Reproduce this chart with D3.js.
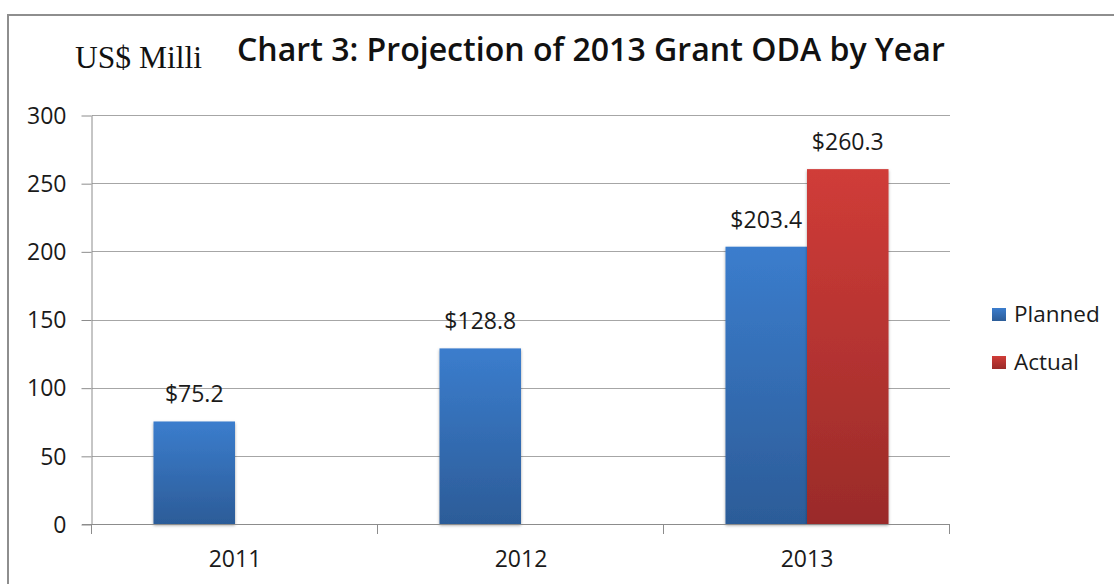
<!DOCTYPE html>
<html>
<head>
<meta charset="utf-8">
<script src="https://cdn.jsdelivr.net/npm/d3@7"></script>
<style>
  html, body { margin: 0; padding: 0; background: #fff; }
  svg { display: block; }
</style>
</head>
<body>
<svg id="chart" width="1114" height="584"></svg>
<script>
const categories = ["2011", "2012", "2013"];
const seriesNames = ["Planned", "Actual"];
const plannedValues = [75.2, 128.8, 203.4];
const actualValues = [null, null, 260.3];
const yTicks = [0, 50, 100, 150, 200, 250, 300];
const titleText = "Chart 3: Projection of 2013 Grant ODA by Year";
const unitText = "US$ Milli";

const svg = d3.select("#chart");
const W = 1114, H = 584;
const plot = { left: 92, right: 950, top: 115, bottom: 524 };
const font = "'Open Sans', 'Noto Sans', sans-serif";

const defs = svg.append("defs");
function grad(id, top, bottom) {
  const g = defs.append("linearGradient").attr("id", id)
    .attr("x1", 0).attr("y1", 0).attr("x2", 0).attr("y2", 1);
  g.append("stop").attr("offset", "0%").attr("stop-color", top);
  g.append("stop").attr("offset", "100%").attr("stop-color", bottom);
}
grad("gPlanned", "#3b7dcd", "#2c5c98");
grad("gActual", "#d03c38", "#9a2b29");
const f = defs.append("filter").attr("id", "shadow")
  .attr("x", "-10%").attr("y", "-10%").attr("width", "120%").attr("height", "120%");
f.append("feDropShadow").attr("dx", 0).attr("dy", 1.5).attr("stdDeviation", 1.5)
  .attr("flood-color", "#000").attr("flood-opacity", 0.35);

// frame
svg.append("rect").attr("x", 8).attr("y", 15).attr("width", W + 20).attr("height", H + 20)
  .attr("fill", "none").attr("stroke", "#8e8e8e").attr("stroke-width", 2);

const x0 = d3.scaleBand().domain(categories).range([plot.left, plot.right])
  .paddingInner(0.43).paddingOuter(0.215);
const x1 = d3.scaleBand().domain(seriesNames).range([0, x0.bandwidth()]);
const y = d3.scaleLinear().domain([0, 300]).range([plot.bottom, plot.top]);

// gridlines
svg.append("g").selectAll("line").data(yTicks.filter(d => d > 0)).join("line")
  .attr("x1", plot.left).attr("x2", plot.right)
  .attr("y1", d => Math.round(y(d)) + 0.5).attr("y2", d => Math.round(y(d)) + 0.5)
  .attr("stroke", "#a6a6a6").attr("stroke-width", 1);

// y axis
const yAxis = svg.append("g").attr("transform", `translate(${plot.left - 0.5},0)`)
  .call(d3.axisLeft(y).tickValues(yTicks).tickSize(10).tickPadding(15).tickSizeOuter(0));
yAxis.select(".domain").attr("stroke", "#8c8c8c");
yAxis.selectAll(".tick line").attr("stroke", "#8c8c8c")
  .attr("transform", "translate(0,0.5)");
yAxis.selectAll(".tick text").attr("font-family", font).attr("font-size", 23)
  .attr("fill", "#1a1a1a").attr("dy", "0.36em");

// bars
const data = categories.map((c, i) => ({
  cat: c,
  vals: [{ s: "Planned", v: plannedValues[i] }, { s: "Actual", v: actualValues[i] }]
}));
const groups = svg.append("g").selectAll("g").data(data).join("g")
  .attr("transform", d => `translate(${x0(d.cat)},0)`);
groups.selectAll("rect").data(d => d.vals.filter(v => v.v != null)).join("rect")
  .attr("x", d => x1(d.s)).attr("width", x1.bandwidth())
  .attr("y", d => y(d.v)).attr("height", d => y(0) - y(d.v))
  .attr("fill", d => d.s === "Planned" ? "url(#gPlanned)" : "url(#gActual)")
  .attr("filter", "url(#shadow)");
groups.selectAll("text").data(d => d.vals.filter(v => v.v != null)).join("text")
  .attr("x", d => x1(d.s) + x1.bandwidth() / 2).attr("y", d => y(d.v) - 19)
  .attr("text-anchor", "middle").attr("font-family", font).attr("font-size", 23)
  .attr("fill", "#1a1a1a").text(d => "$" + d.v.toFixed(1));

// x axis
const xAxisScale = d3.scalePoint().domain(d3.range(categories.length + 1))
  .range([plot.left, plot.right]);
const xg = svg.append("g");
xg.append("line").attr("x1", plot.left - 10).attr("x2", plot.right)
  .attr("y1", plot.bottom + 0.5).attr("y2", plot.bottom + 0.5).attr("stroke", "#8c8c8c");
xg.selectAll("line.t").data(xAxisScale.domain()).join("line").attr("class", "t")
  .attr("x1", d => Math.round(xAxisScale(d)) - 0.5).attr("x2", d => Math.round(xAxisScale(d)) - 0.5)
  .attr("y1", plot.bottom).attr("y2", plot.bottom + 10).attr("stroke", "#8c8c8c");
xg.selectAll("text").data(categories).join("text")
  .attr("x", d => x0(d) + x0.bandwidth() / 2).attr("y", 567)
  .attr("text-anchor", "middle").attr("font-family", font).attr("font-size", 23)
  .attr("fill", "#1a1a1a").text(d => d);

// title
const title = svg.append("text").attr("x", 237).attr("y", 61)
  .attr("font-family", font).attr("font-weight", 600).attr("font-size", 30)
  .attr("fill", "#111").text(titleText);
const tw = title.node().getComputedTextLength();
title.attr("font-size", 30 * 708 / tw);

svg.append("text").attr("x", 75).attr("y", 68)
  .attr("font-family", "'Liberation Serif', 'Times New Roman', serif").attr("font-size", 31.5)
  .attr("fill", "#111").text(unitText);

// legend
const legendColors = ["url(#gPlanned)", "url(#gActual)"];
const lg = svg.append("g").selectAll("g").data(seriesNames).join("g")
  .attr("transform", (d, i) => `translate(992,${308 + i * 48})`);
lg.append("rect").attr("width", 14).attr("height", 13)
  .attr("fill", (d, i) => legendColors[i]);
lg.append("text").attr("x", 22).attr("y", 14).attr("font-family", font)
  .attr("font-size", 22.5).attr("fill", "#1a1a1a").text(d => d);
</script>
</body>
</html>
